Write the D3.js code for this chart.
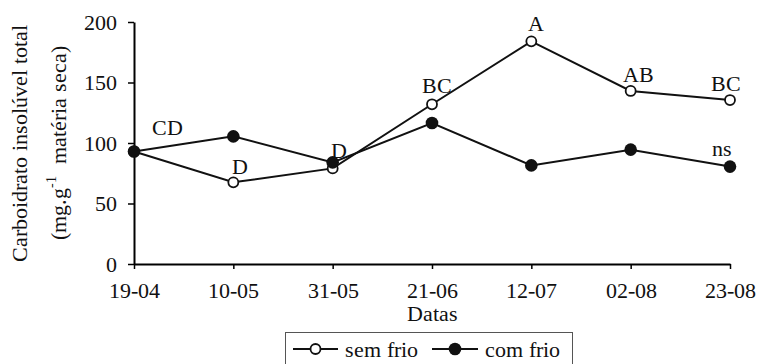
<!DOCTYPE html>
<html>
<head>
<meta charset="utf-8">
<script src="https://cdn.jsdelivr.net/npm/d3@7"></script>
<style>
  @font-face { font-family: "ChartSerif"; src: local("Liberation Serif"), local("LiberationSerif"), local("LiberationSerif-Regular"), local("Times New Roman"); }
  html, body { margin: 0; padding: 0; background: #fff; }
</style>
</head>
<body>
<svg id="fig" width="759" height="364" style="display:block" font-family="ChartSerif, Liberation Serif, Times New Roman, serif">
  <text x="432.7" y="321" text-anchor="middle" font-size="22" fill="#111">Datas</text>
  <text transform="translate(27,143) rotate(-90)" text-anchor="middle" font-size="22" fill="#111">Carboidrato insolúvel total</text>
  <text transform="translate(66,143) rotate(-90)" text-anchor="middle" font-size="22" fill="#111">(mg.g<tspan font-size="14" dy="-10">-1</tspan><tspan dy="10">&#160;&#160;matéria seca)</tspan></text>
</svg>
<script>
// ---- data ----
const dates = ["19-04", "10-05", "31-05", "21-06", "12-07", "02-08", "23-08"];
const semFrio = [93, 67.5, 79, 132, 184, 143, 135.5];
const comFrio = [93, 105.5, 84, 116.5, 81.5, 94.5, 80.5];
const semFrioLetters = ["CD", "D", "D", "BC", "A", "AB", "BC"];
const comFrioLetters = ["", "", "", "", "", "", "ns"];
const yTicks = [0, 50, 100, 150, 200];
const seriesNames = ["sem frio", "com frio"];

// ---- layout ----
const W = 759, H = 364;
const margin = { left: 134, right: 29, top: 22, bottom: 100 };
const FS = 22;
const FONT = "ChartSerif, Liberation Serif, Times New Roman, serif";

const svg = d3.select("#fig");
const x = d3.scalePoint().domain(dates).range([margin.left, W - margin.right]);
const y = d3.scaleLinear().domain([0, 200]).range([H - margin.bottom, margin.top]);

// Y axis
const gy = svg.append("g")
  .attr("transform", `translate(${margin.left},0)`)
  .call(d3.axisLeft(y).tickValues(yTicks).tickSize(6).tickSizeOuter(0).tickPadding(11));
gy.attr("font-family", FONT).attr("font-size", FS);
gy.select(".domain").attr("stroke", "#000").attr("stroke-width", 2);
gy.selectAll(".tick line").attr("stroke", "#000").attr("stroke-width", 1.5);
gy.selectAll(".tick text").attr("fill", "#111").attr("dy", "0.33em").attr("font-family", FONT);

// X axis
const gx = svg.append("g")
  .attr("transform", `translate(0,${y(0)})`)
  .call(d3.axisBottom(x).tickSize(5).tickSizeOuter(0));
gx.attr("font-family", FONT).attr("font-size", FS);
gx.select(".domain").attr("stroke", "#000").attr("stroke-width", 2);
gx.selectAll(".tick line").attr("stroke", "#000").attr("stroke-width", 1.5);
gx.selectAll(".tick text").attr("fill", "#111").attr("y", 34).attr("dy", 0).attr("font-family", FONT);

// Lines
const line = d3.line().x((d, i) => x(dates[i])).y(d => y(d));
svg.append("path").datum(semFrio).attr("d", line).attr("fill", "none").attr("stroke", "#111").attr("stroke-width", 2);
svg.append("path").datum(comFrio).attr("d", line).attr("fill", "none").attr("stroke", "#111").attr("stroke-width", 2);

// Markers
svg.append("g").selectAll("circle").data(semFrio).join("circle")
  .attr("cx", (d, i) => x(dates[i])).attr("cy", d => y(d)).attr("r", 5)
  .attr("fill", "#fff").attr("stroke", "#111").attr("stroke-width", 1.8);
svg.append("g").selectAll("circle").data(comFrio).join("circle")
  .attr("cx", (d, i) => x(dates[i])).attr("cy", d => y(d)).attr("r", 6.3)
  .attr("fill", "#111");

// Letters (offsets relative to the point, in px)
const semOffsets = [[33, -16], [7, -8], [6, -10], [5, -11], [5, -10], [8, -9], [-4, -9]];
const comOffsets = [[0, 0], [0, 0], [0, 0], [0, 0], [0, 0], [0, 0], [-8, -11]];
const gl = svg.append("g").attr("font-family", FONT).attr("font-size", FS).attr("fill", "#111");
gl.selectAll("text.s").data(semFrioLetters).join("text").attr("class", "s")
  .attr("x", (d, i) => x(dates[i]) + semOffsets[i][0])
  .attr("y", (d, i) => y(semFrio[i]) + semOffsets[i][1])
  .attr("text-anchor", "middle").text(d => d);
gl.selectAll("text.c").data(comFrioLetters).join("text").attr("class", "c")
  .attr("x", (d, i) => x(dates[i]) + comOffsets[i][0])
  .attr("y", (d, i) => y(comFrio[i]) + comOffsets[i][1])
  .attr("text-anchor", "middle").text(d => d);

// Legend
const lg = svg.append("g").attr("font-family", FONT).attr("font-size", FS);
lg.append("rect").attr("x", 285.5).attr("y", 332.5).attr("width", 287).attr("height", 40)
  .attr("fill", "#fff").attr("stroke", "#555").attr("stroke-width", 1);
const items = [
  { name: seriesNames[0], x0: 293, x1: 338, open: true, tx: 345 },
  { name: seriesNames[1], x0: 432, x1: 478, open: false, tx: 485 }
];
items.forEach(it => {
  const cy = 349;
  lg.append("line").attr("x1", it.x0).attr("x2", it.x1).attr("y1", cy).attr("y2", cy)
    .attr("stroke", "#111").attr("stroke-width", 2);
  if (it.open) {
    lg.append("circle").attr("cx", (it.x0 + it.x1) / 2).attr("cy", cy).attr("r", 5)
      .attr("fill", "#fff").attr("stroke", "#111").attr("stroke-width", 1.8);
  } else {
    lg.append("circle").attr("cx", (it.x0 + it.x1) / 2).attr("cy", cy).attr("r", 6.3).attr("fill", "#111");
  }
  lg.append("text").attr("x", it.tx).attr("y", 357).attr("fill", "#111").text(it.name);
});
</script>
</body>
</html>
